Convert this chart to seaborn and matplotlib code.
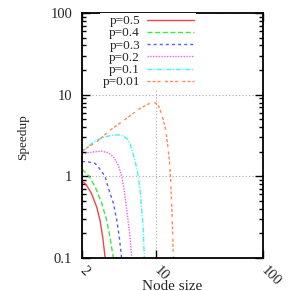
import seaborn as sns
import matplotlib
matplotlib.use("Agg")
import matplotlib.pyplot as plt
from matplotlib.ticker import FixedLocator, LogLocator, NullLocator, FuncFormatter
import pandas as pd

# values (node size -> speedup)
p_labels = ["p=0.5", "p=0.4", "p=0.3", "p=0.2", "p=0.1", "p=0.01"]

x_p05 = [2.0, 2.2, 2.45, 2.75, 2.95, 3.13, 3.3]
y_p05 = [0.88, 0.78, 0.62, 0.42, 0.29, 0.18, 0.10]

x_p04 = [2.0, 2.15, 2.33, 2.65, 3.06, 3.41, 3.66, 3.94]
y_p04 = [1.22, 1.12, 1.0, 0.75, 0.47, 0.29, 0.18, 0.10]

x_p03 = [2.0, 2.3, 2.65, 2.84, 3.29, 3.5, 3.94, 4.24, 4.48, 4.7]
y_p03 = [1.52, 1.50, 1.44, 1.31, 1.0, 0.75, 0.47, 0.29, 0.18, 0.10]

x_p02 = [2.0, 2.3, 2.65, 3.06, 3.5, 3.94, 4.38, 4.72, 4.97, 5.26, 5.44, 5.65, 5.86]
y_p02 = [1.85, 1.95, 2.0, 2.03, 1.95, 1.74, 1.37, 1.0, 0.68, 0.39, 0.27, 0.18, 0.10]

x_p01 = [2.0, 2.4, 2.75, 3.3, 3.94, 4.3, 4.7, 5.26, 5.65, 6.0, 6.29, 6.53, 6.76, 7.01, 7.27, 7.53, 7.69]
y_p01 = [2.0, 2.45, 2.78, 3.05, 3.2, 3.22, 3.18, 2.92, 2.5, 1.95, 1.55, 1.25, 0.97, 0.68, 0.39, 0.22, 0.10]

x_p001 = [2.0, 2.75, 3.66, 5.26, 7.0, 8.6, 9.5, 10.3, 10.8, 11.6, 12.2, 12.7, 13.2, 13.6, 13.9, 14.2, 14.4]
y_p001 = [2.05, 2.65, 3.66, 5.15, 6.8, 7.8, 8.0, 7.6, 6.6, 4.9, 3.7, 2.5, 1.6, 0.9, 0.45, 0.2, 0.1]

x_ticks = [2, 10, 100]
y_ticks = [0.1, 1, 10, 100]

colors = ["#f04545", "#3ee63e", "#5a5aff", "#f060f0", "#3ff5f5", "#ff8a5c"]
dash_styles = ["", (3.6, 1.9), (2.2, 2.2), (1, 1), (3.6, 1.2, 0.8, 1.2),
               (2.2, 1.4, 2.2, 1.4, 2.2, 3.2)]

xs = [x_p05, x_p04, x_p03, x_p02, x_p01, x_p001]
ys = [y_p05, y_p04, y_p03, y_p02, y_p01, y_p001]
frames = []
for lab, xv, yv in zip(p_labels, xs, ys):
    frames.append(pd.DataFrame({"node": xv, "speedup": yv, "p": lab}))
df = pd.concat(frames, ignore_index=True)

sns.set_style("ticks")
plt.rcParams["font.family"] = ["Liberation Serif", "DejaVu Serif"]

fig = plt.figure(figsize=(2.91, 2.91), dpi=100)
ax = fig.add_axes([82 / 291, 33 / 291, 181 / 291, 245 / 291])

sns.lineplot(data=df, x="node", y="speedup", hue="p", style="p",
             hue_order=p_labels, style_order=p_labels,
             palette=dict(zip(p_labels, colors)),
             dashes=dict(zip(p_labels, dash_styles)),
             sort=False, estimator=None, linewidth=1.0, legend=False, ax=ax)

ax.set_xscale("log")
ax.set_yscale("log")
ax.set_xlim(2, 100)
ax.set_ylim(0.1, 100)

ax.xaxis.set_major_locator(FixedLocator(x_ticks))
ax.xaxis.set_minor_locator(NullLocator())
ax.yaxis.set_major_locator(FixedLocator(y_ticks))
ax.yaxis.set_minor_locator(LogLocator(base=10, subs=range(2, 10)))
fmt = FuncFormatter(lambda v, pos: "%g" % v)
ax.xaxis.set_major_formatter(fmt)
ax.yaxis.set_major_formatter(fmt)
ax.yaxis.set_minor_formatter(FuncFormatter(lambda v, pos: ""))

ax.tick_params(which="both", direction="in", top=True, right=True, width=1.0,
               labelsize=10.5, color="black")
ax.tick_params(which="major", length=5.5)
ax.tick_params(which="minor", length=3)
ax.tick_params(axis="y", pad=7)
ax.tick_params(axis="x", pad=7.5)
for lab in ax.get_xticklabels():
    lab.set_rotation(-45)
    lab.set_rotation_mode("anchor")
    lab.set_ha("left")
    lab.set_va("center")

for s in ax.spines.values():
    s.set_linewidth(1.3)
    s.set_color("black")

ax.grid(True, which="major", color="#a8a8a8", linestyle=(0, (1, 2)), linewidth=0.8)
ax.set_axisbelow(True)

ax.set_xlabel("Node size", fontsize=11, va="center")
ax.xaxis.set_label_coords(0.5, -28 / 245)
ax.set_ylabel("Speedup", fontsize=9.5, va="center")
ax.yaxis.set_label_coords(-59 / 181, 0.5 - 2 / 245)

leg = ax.legend(ax.lines[:6], p_labels, loc="upper right",
                bbox_to_anchor=(196 / 291, 1 - 13 / 291),
                bbox_transform=fig.transFigure, markerfirst=False,
                fontsize=9.5, handlelength=3.6, handletextpad=0.5,
                labelspacing=0.0, borderpad=0.15, borderaxespad=0,
                frameon=True, fancybox=False, framealpha=1.0)
leg.get_frame().set_edgecolor("none")
leg.get_frame().set_facecolor("white")
leg.set_zorder(5)

fig.savefig("out.png", dpi=100)
